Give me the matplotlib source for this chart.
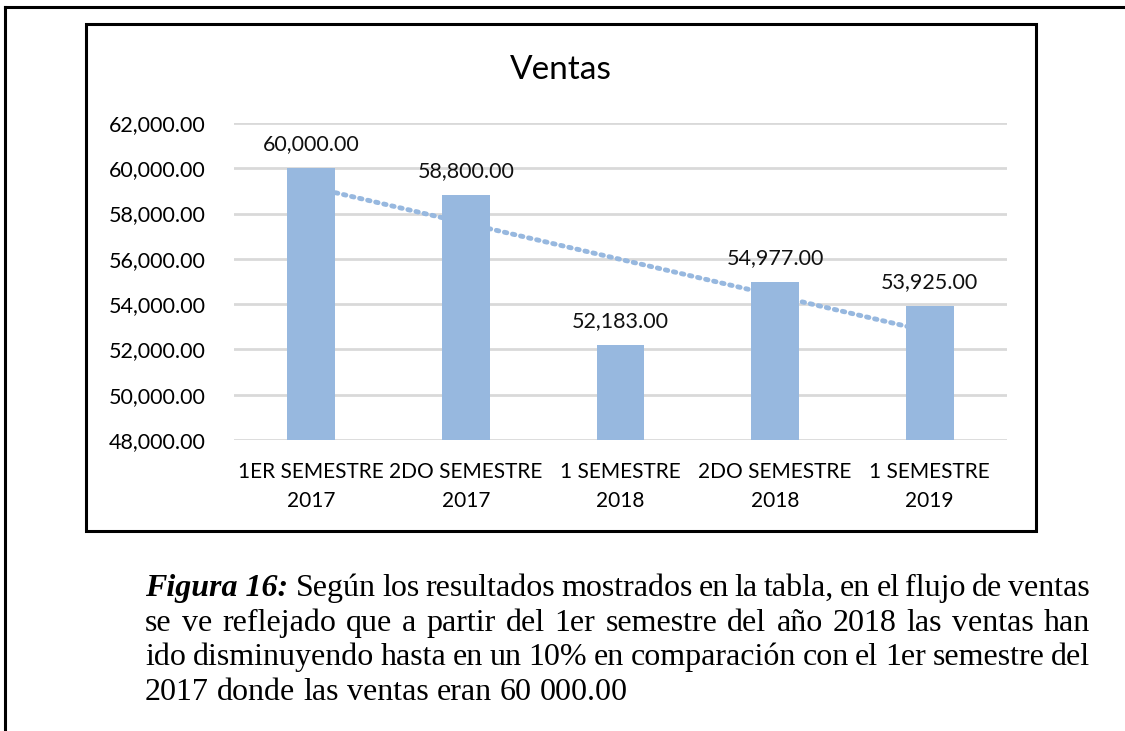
import numpy as np
import matplotlib
matplotlib.use("Agg")
import matplotlib.pyplot as plt
from matplotlib.lines import Line2D
from matplotlib.patches import Rectangle

categories = ["1ER SEMESTRE\n2017", "2DO SEMESTRE\n2017", "1 SEMESTRE\n2018",
              "2DO SEMESTRE\n2018", "1 SEMESTRE\n2019"]
ventas = [60000, 58800, 52183, 54977, 53925]
yticks = [48000, 50000, 52000, 54000, 56000, 58000, 60000, 62000]

caption_lines = [
    "Según los resultados mostrados en la tabla, en el flujo de ventas",
    "se ve reflejado que a partir del 1er semestre del año 2018 las ventas han",
    "ido disminuyendo hasta en un 10% en comparación con el 1er semestre del",
    "2017 donde las ventas eran 60 000.00",
]

W, H = 1125, 731
bar_color = "#97B8DF"
fig = plt.figure(figsize=(W / 100, H / 100), dpi=100)

# outer page frame (left and top only) and chart frame
fig.add_artist(Line2D([5 / W, 5 / W], [0, 1 - 7 / H], color="black", lw=2.2))
fig.add_artist(Line2D([5 / W, 1], [1 - 7 / H, 1 - 7 / H], color="black", lw=2.2))
fig.add_artist(Rectangle((86 / W, 1 - 531 / H), (1036 - 86) / W, (531 - 24) / H,
                         fill=False, ec="black", lw=2.2))

ax = fig.add_axes([234 / W, 1 - 440 / H, (1007 - 234) / W, (440 - 123) / H])
x = np.arange(len(ventas))
ax.bar(x, ventas, width=0.31, color=bar_color, zorder=3)

# linear trend line
coef = np.polyfit(x, ventas, 1)
ax.plot(x, np.polyval(coef, x), color=bar_color, lw=3.5, ls=(0, (0.5, 1.2)),
        dash_capstyle="round", zorder=2)

for xi, v in zip(x, ventas):
    ax.text(xi, v + 620, f"{v:,.2f}", ha="center", va="bottom",
            fontsize=15.5, family="Lato", color="#111111")

ax.set_ylim(48000, 62000)
ax.set_xlim(-0.5, len(ventas) - 0.5)
ax.set_yticks(yticks)
ax.set_yticklabels([f"{t:,.2f}" for t in yticks], fontsize=15.5, family="Lato")
ax.set_xticks(x)
ax.set_xticklabels(categories, fontsize=15, family="Lato", linespacing=1.55)
ax.tick_params(length=0, pad=16, axis="x")
for lab in ax.get_yticklabels():
    lab.set_horizontalalignment("left")
    lab.set_x(-(234 - 109) / (1007 - 234))
ax.tick_params(axis="y", length=0, pad=0)
ax.grid(axis="y", color="#D9D9D9", lw=2, zorder=0)
ax.set_axisbelow(True)
for s in ax.spines.values():
    s.set_visible(False)

fig.text(561 / W, 1 - 70 / H, "Ventas", ha="center", va="center",
         fontsize=24, family="Lato")

# caption, justified lines
left, right = 145, 1090
y0 = 596
dy = 34.7
fs = 23
fig.canvas.draw()
renderer = fig.canvas.get_renderer()
prefix = fig.text(left / W, 1 - y0 / H, "Figura 16:", fontsize=fs,
                  family="Liberation Serif", weight="bold", style="italic",
                  va="baseline")
pw = prefix.get_window_extent(renderer).width
space = fig.text(0, 0, "a a", fontsize=fs, family="Liberation Serif")
aw = fig.text(0, 0, "aa", fontsize=fs, family="Liberation Serif")
sp_w = space.get_window_extent(renderer).width - aw.get_window_extent(renderer).width
space.remove()
aw.remove()

for i, line in enumerate(caption_lines):
    yy = 1 - (y0 + i * dy) / H
    start = left + (pw + sp_w if i == 0 else 0)
    words = line.split(" ")
    objs = [fig.text(0, yy, w, fontsize=fs, family="Liberation Serif",
                     va="baseline") for w in words]
    widths = [o.get_window_extent(renderer).width for o in objs]
    if i < len(caption_lines) - 1:
        gap = (right - start - sum(widths)) / (len(words) - 1)
    else:
        gap = sp_w
    pos = start
    for o, w in zip(objs, widths):
        o.set_x(pos / W)
        pos += w + gap

fig.savefig("out.png", dpi=100)
